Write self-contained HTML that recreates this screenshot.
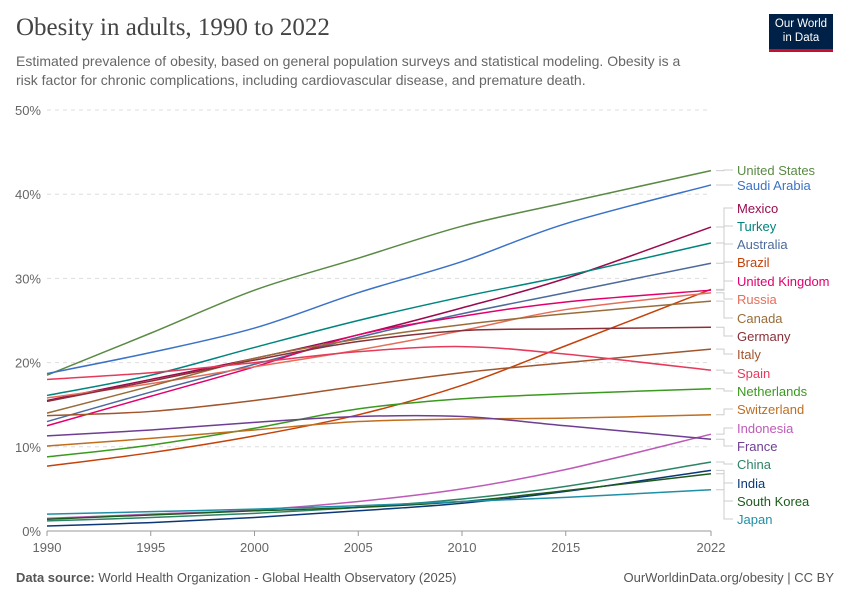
<!DOCTYPE html>
<html><head><meta charset="utf-8"><style>
body{margin:0;background:#fff;font-family:"Liberation Sans",sans-serif;}
#wrap{position:relative;width:850px;height:600px;overflow:hidden}
.t{position:absolute}
</style></head><body>
<div id="wrap">
<div class="t" style="left:16px;top:14px;font-family:'Liberation Serif',serif;font-size:25px;color:#444">Obesity in adults, 1990 to 2022</div>
<div class="t" style="left:16px;top:52px;font-size:14px;color:#666;line-height:19px;width:688px">Estimated prevalence of obesity, based on general population surveys and statistical modeling. Obesity is a risk factor for chronic complications, including cardiovascular disease, and premature death.</div>
<div class="t" style="left:769px;top:14px;width:64px;height:38px;background:#002147;border-bottom:3px solid #c8102e;color:#fff;font-size:11.5px;text-align:center;line-height:14px;padding-top:3px;box-sizing:border-box">Our World<br>in Data</div>
<div class="t" style="left:16px;top:570px;font-size:13px;color:#555"><b>Data source:</b> World Health Organization - Global Health Observatory (2025)</div>
<div class="t" style="right:16px;top:570px;font-size:13px;color:#555">OurWorldinData.org/obesity | CC BY</div>
<svg id="chart" width="850" height="600" style="position:absolute;left:0;top:0"></svg>
</div>
<script>
const years=[1990,1995,2000,2005,2010,2015,2022];
const names=["United States","Saudi Arabia","Mexico","Turkey","Australia","Brazil","United Kingdom","Russia","Canada","Germany","Italy","Spain","Netherlands","Switzerland","Indonesia","France","China","India","South Korea","Japan"];
const colors=["#5a8a45","#3a72c6","#9a0a4e","#00847e","#4c6a9c","#c4420a","#e4006c","#e56e5a","#996d39","#883039","#a2552c","#e63a5b","#3a9a1f","#c06d1e","#be5ab7","#6d3e91","#2c8465","#0b3776","#1d5a1d","#1e8fa6"];
const usV=[18.5,23.5,28.6,32.4,36.2,39.0,42.8];
const saudiV=[18.7,21.2,24.1,28.3,32.0,36.5,41.1];
const mexicoV=[15.5,18.0,20.5,23.3,26.5,30.0,36.1];
const turkeyV=[16.1,18.5,21.8,25.0,27.8,30.3,34.2];
const australiaV=[13.0,16.5,19.8,23.0,25.8,28.3,31.8];
const brazilV=[7.7,9.3,11.3,13.8,17.3,22.0,28.7];
const ukV=[12.5,16.0,19.5,23.3,25.5,27.2,28.6];
const russiaV=[15.8,17.5,19.5,21.5,23.8,26.3,28.3];
const canadaV=[14.0,17.2,20.5,22.8,24.5,25.8,27.3];
const germanyV=[15.4,17.8,20.3,22.5,23.8,24.0,24.2];
const italyV=[13.7,14.2,15.5,17.2,18.8,20.0,21.6];
const spainV=[18.0,18.8,20.0,21.3,21.9,21.0,19.1];
const netherlandsV=[8.8,10.2,12.2,14.5,15.7,16.3,16.9];
const switzerlandV=[10.1,11.0,12.0,13.0,13.3,13.4,13.8];
const indonesiaV=[1.5,2.0,2.5,3.5,5.0,7.3,11.5];
const franceV=[11.3,12.0,12.9,13.6,13.6,12.5,10.9];
const chinaV=[1.2,1.6,2.1,2.8,3.8,5.3,8.2];
const indiaV=[0.6,1.0,1.6,2.4,3.3,4.7,7.2];
const koreaV=[1.4,1.9,2.4,2.8,3.5,4.8,6.8];
const japanV=[2.0,2.3,2.6,3.0,3.5,4.0,4.9];
const series=[usV,saudiV,mexicoV,turkeyV,australiaV,brazilV,ukV,russiaV,canadaV,germanyV,italyV,spainV,netherlandsV,switzerlandV,indonesiaV,franceV,chinaV,indiaV,koreaV,japanV];
const yTicks=[0,10,20,30,40,50];
const xTicks=[1990,1995,2000,2005,2010,2015,2022];
const X=y=>47+(y-1990)*(711-47)/32;
const Y=v=>531-v*(531-110)/50;
const svg=document.getElementById('chart');
const NS='http://www.w3.org/2000/svg';
function mk(t,a){const e=document.createElementNS(NS,t);for(const k in a)e.setAttribute(k,a[k]);svg.appendChild(e);return e;}
yTicks.forEach(v=>{
 const l=mk('line',{x1:47,x2:711,y1:Y(v),y2:Y(v),stroke:v?'#ddd':'#999','stroke-dasharray':v?'4,4':'none'});
 
 
 const t=mk('text',{x:41,y:Y(v)+5,'text-anchor':'end','font-size':13,fill:'#666','font-family':'Liberation Sans, sans-serif'});
 t.textContent=v+'%';
 
 
});
xTicks.forEach(v=>{
 const l=mk('line',{x1:X(v),x2:X(v),y1:531,y2:536,stroke:'#999'});
 
 
 const t=mk('text',{x:X(v),y:552,'text-anchor':'middle','font-size':13,fill:'#666','font-family':'Liberation Sans, sans-serif'});
 t.textContent=v;
 
 
});
function path(vals){let d='';const p=vals.map((v,i)=>[X(years[i]),Y(v)]);
 d='M'+p[0][0]+','+p[0][1];
 for(let i=0;i<p.length-1;i++){const p0=p[i-1]||p[i],p1=p[i],p2=p[i+1],p3=p[i+2]||p2;
  const c1=[p1[0]+(p2[0]-p0[0])/6,p1[1]+(p2[1]-p0[1])/6],c2=[p2[0]-(p3[0]-p1[0])/6,p2[1]-(p3[1]-p1[1])/6];
  d+=' C'+c1+' '+c2+' '+p2;}
 return d;}
const labelY=[170,185,208,226,244,262,281,299,318,336,354,373,391,409,428,446,464,483,501,519];
series.forEach((s,i)=>{
 const p=mk('path',{d:path(s),fill:'none',stroke:colors[i],'stroke-width':1.5});
 
 
 const ey=Y(s[s.length-1]);
 const c=mk('path',{d:`M716,${ey} H724 V${labelY[i]} H733`,fill:'none',stroke:'#ccc','stroke-width':1});
 
 
 const t=mk('text',{x:737,y:labelY[i]+5,'font-size':13,fill:colors[i],'font-family':'Liberation Sans, sans-serif'});
 t.textContent=names[i];
 
 
});
</script>
</body></html>
